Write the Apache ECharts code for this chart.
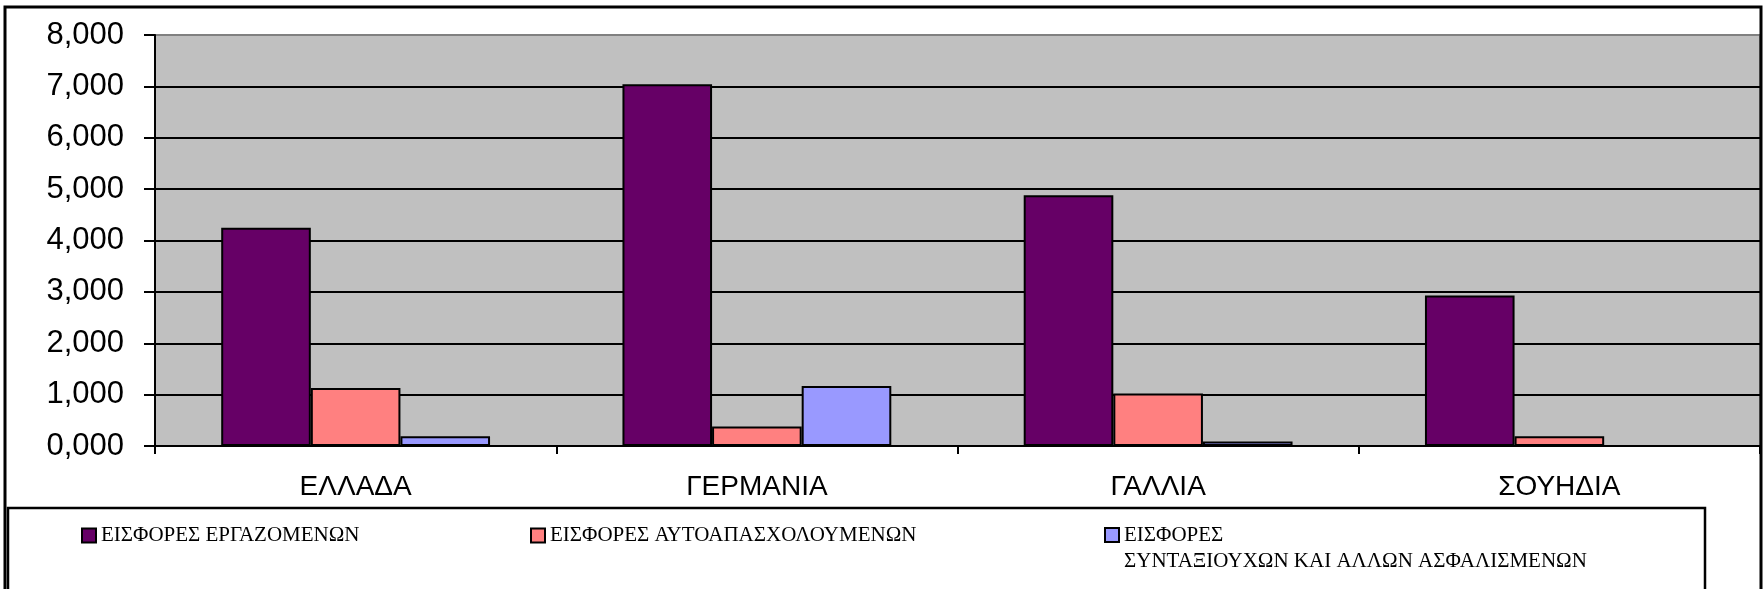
<!DOCTYPE html>
<html>
<head>
<meta charset="utf-8">
<script src="https://cdn.jsdelivr.net/npm/echarts@6/dist/echarts.min.js"></script>
<style>
  html, body { margin: 0; padding: 0; background: #fff; }
  #chart { width: 1764px; height: 589px; }
</style>
</head>
<body>
<div id="chart"></div>
<script>
// categories
const countries = ["ΕΛΛΑΔΑ", "ΓΕΡΜΑΝΙΑ", "ΓΑΛΛΙΑ", "ΣΟΥΗΔΙΑ"];
// series names
const seriesNames = [
  "ΕΙΣΦΟΡΕΣ ΕΡΓΑΖΟΜΕΝΩΝ",
  "ΕΙΣΦΟΡΕΣ ΑΥΤΟΑΠΑΣΧΟΛΟΥΜΕΝΩΝ",
  "ΕΙΣΦΟΡΕΣ ΣΥΝΤΑΞΙΟΥΧΩΝ ΚΑΙ ΑΛΛΩΝ ΑΣΦΑΛΙΣΜΕΝΩΝ",
];
// values
const employees = [4.25, 7.04, 4.88, 2.93];
const selfEmployed = [1.13, 0.38, 1.02, 0.19];
const pensioners = [0.19, 1.17, 0.09, null];
// y tick labels
const yTickLabels = ["0,000", "1,000", "2,000", "3,000", "4,000", "5,000", "6,000", "7,000", "8,000"];

const colors = ["#660066", "#FF8080", "#9999FF"];
const seriesData = [employees, selfEmployed, pensioners];

const chart = echarts.init(document.getElementById("chart"));

// one legend per item so each sits where it does in the original
const legendLeft = [81, 530, 1104];
const legendTop = [524, 524, 496];
const legends = seriesNames.map((name, i) => ({
  data: [name],
  left: legendLeft[i],
  top: legendTop[i],
  padding: 0,
  icon: "rect",
  itemWidth: 14,
  itemHeight: 14,
  selectedMode: false,
  itemStyle: { borderColor: "#000", borderWidth: 2 },
  // the long name wraps after the first word, first line level with the marker
  formatter: (n) =>
    n.indexOf("ΣΥΝ") > 0 ? " \n" + n.replace("ΕΙΣΦΟΡΕΣ ΣΥΝ", "ΕΙΣΦΟΡΕΣ\nΣΥΝ") : n,
  textStyle: {
    fontFamily: "Liberation Serif",
    fontSize: 21,
    color: "#000",
    lineHeight: i === 2 ? 26 : 23,
  },
}));

const option = {
  animation: false,
  backgroundColor: "#fff",
  color: colors,
  grid: {
    left: 155,
    right: 4,
    top: 35,
    bottom: 143,
    show: true,
    backgroundColor: "#C0C0C0",
    borderColor: "#808080",
    borderWidth: 2,
  },
  legend: legends,
  xAxis: {
    type: "category",
    data: countries,
    axisLine: { show: true, lineStyle: { color: "#000", width: 2 } },
    axisTick: { show: true, length: 8, lineStyle: { color: "#000", width: 2 } },
    axisLabel: {
      margin: 27,
      fontSize: 28,
      fontFamily: "Liberation Sans",
      color: "#000",
    },
  },
  yAxis: {
    type: "value",
    min: 0,
    max: 8,
    interval: 1,
    axisLine: { show: true, lineStyle: { color: "#000", width: 2 } },
    axisTick: { show: true, length: 11, lineStyle: { color: "#000", width: 2 } },
    axisLabel: {
      margin: 31,
      fontSize: 31,
      fontFamily: "Liberation Sans",
      color: "#000",
      formatter: (v) => yTickLabels[Math.round(v)],
    },
    splitLine: {
      show: true,
      showMaxLine: false,
      lineStyle: { color: "#000", width: 2 },
    },
  },
  series: seriesNames.map((name, i) => ({
    name: name,
    type: "bar",
    data: seriesData[i],
    barGap: "0%",
    barCategoryGap: "33%",
    itemStyle: { color: colors[i], borderColor: "#000", borderWidth: 2 },
  })),
  graphic: [
    {
      // outer chart frame
      type: "rect",
      z: 100,
      shape: { x: 5, y: 7, width: 1756, height: 640 },
      style: { fill: "none", stroke: "#000", lineWidth: 3 },
    },
    {
      // legend box
      type: "rect",
      z: 100,
      shape: { x: 8, y: 508, width: 1697, height: 120 },
      style: { fill: "none", stroke: "#000", lineWidth: 2.5 },
    },
  ],
};

chart.setOption(option);
</script>
</body>
</html>
